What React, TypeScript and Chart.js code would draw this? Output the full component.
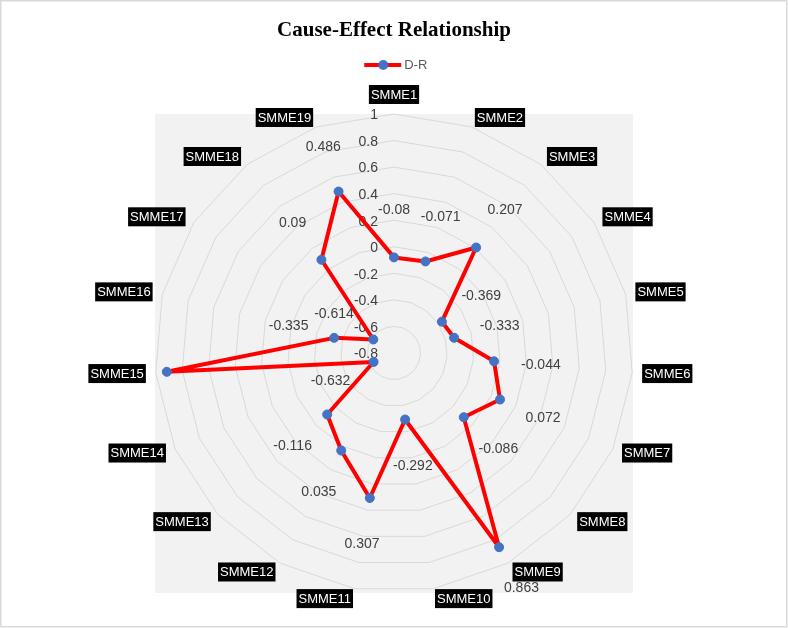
import React, { useEffect, useRef } from "react";
import { Chart, registerables } from "chart.js";

Chart.register(...registerables);

const categories = [
  "SMME1", "SMME2", "SMME3", "SMME4", "SMME5", "SMME6", "SMME7", "SMME8", "SMME9", "SMME10",
  "SMME11", "SMME12", "SMME13", "SMME14", "SMME15", "SMME16", "SMME17", "SMME18", "SMME19",
];
const drValues = [
  -0.08, -0.071, 0.207, -0.369, -0.333, -0.044, 0.072, -0.086, 0.863, -0.292,
  0.307, 0.035, -0.116, -0.632, 0.917, -0.335, -0.614, 0.09, 0.486,
];
const axisMin = -0.8;
const axisMax = 1;
const axisStep = 0.2;
const chartTitle = "Cause-Effect Relationship";
const seriesName = "D-R";

const SANS = '"Liberation Sans", Arial, sans-serif';
const SERIF = '"Liberation Serif", "Times New Roman", serif';

const fmtTick = (v: number) => String(Math.round(v * 10) / 10);

function makeLegendIcon() {
  const c = document.createElement("canvas");
  c.width = 46;
  c.height = 12;
  const g = c.getContext("2d")!;
  g.strokeStyle = "#ff0000";
  g.lineWidth = 4;
  g.beginPath();
  g.moveTo(8, 6);
  g.lineTo(45, 6);
  g.stroke();
  g.fillStyle = "#4472c4";
  g.beginPath();
  g.arc(27, 6, 5, 0, Math.PI * 2);
  g.fill();
  return c;
}

const decorPlugin = {
  id: "decor",
  beforeDraw(chart: any) {
    const { ctx, chartArea, width, height } = chart;
    ctx.save();
    ctx.fillStyle = "#ffffff";
    ctx.fillRect(0, 0, width, height);
    ctx.strokeStyle = "#d9d9d9";
    ctx.lineWidth = 1.5;
    ctx.strokeRect(0.75, 0.75, width - 2, height - 2);
    ctx.fillStyle = "#f2f2f2";
    ctx.fillRect(chartArea.left, chartArea.top, chartArea.right - chartArea.left, chartArea.bottom - chartArea.top);
    ctx.restore();
  },
  beforeDatasetsDraw(chart: any) {
    const scale = chart.scales.r;
    const ctx = chart.ctx;
    ctx.save();
    ctx.font = `14px ${SANS}`;
    ctx.fillStyle = "#404040";
    ctx.textAlign = "right";
    ctx.textBaseline = "middle";
    scale.ticks.forEach((t: any) => {
      const d = scale.getDistanceFromCenterForValue(t.value);
      ctx.fillText(fmtTick(t.value), scale.xCenter - 16, scale.yCenter - d + 1.5);
    });
    ctx.restore();
  },
  afterDatasetsDraw(chart: any) {
    const scale = chart.scales.r;
    const ctx = chart.ctx;
    ctx.save();
    ctx.font = `14px ${SANS}`;
    ctx.fillStyle = "#404040";
    ctx.textAlign = "center";
    ctx.textBaseline = "middle";
    drValues.forEach((v, i) => {
      const d = scale.getDistanceFromCenterForValue(v) + 47;
      const p = scale.getPointPosition(i, d);
      ctx.fillText(String(v), p.x, p.y);
    });
    ctx.restore();
  },
  afterDraw(chart: any) {
    const scale = chart.scales.r;
    const ctx = chart.ctx;
    ctx.save();
    ctx.font = `13px ${SANS}`;
    const R = scale.drawingArea + 10;
    categories.forEach((c, i) => {
      const p = scale.getPointPosition(i, R);
      const s = (p.x - scale.xCenter) / R;
      const cosv = (scale.yCenter - p.y) / R;
      const w = ctx.measureText(c).width + 4;
      const h = 19;
      let left: number;
      let top: number;
      if (Math.abs(s) < 0.01) {
        left = p.x - w / 2;
        top = cosv > 0 ? p.y - h : p.y;
      } else if (s > 0) {
        left = p.x;
        top = p.y - h / 2;
      } else {
        left = p.x - w;
        top = p.y - h / 2;
      }
      ctx.fillStyle = "#000000";
      ctx.fillRect(left, top, w, h);
      ctx.fillStyle = "#ffffff";
      ctx.textAlign = "center";
      ctx.textBaseline = "middle";
      ctx.fillText(c, left + w / 2, top + h / 2 + 0.5);
    });
    ctx.restore();
  },
};

export default function App() {
  const ref = useRef<HTMLCanvasElement | null>(null);
  useEffect(() => {
    document.body.style.margin = "0";
    const canvas = ref.current!;
    const icon = makeLegendIcon();
    const chart = new Chart(canvas, {
      type: "radar",
      data: {
        labels: categories,
        datasets: [
          {
            label: seriesName,
            data: drValues,
            borderColor: "#ff0000",
            borderWidth: 4,
            backgroundColor: "#4472c4",
            pointBackgroundColor: "#4472c4",
            pointBorderColor: "#4472c4",
            pointBorderWidth: 1,
            pointRadius: 4.5,
            fill: false,
            tension: 0,
            borderJoinStyle: "round",
          } as any,
        ],
      },
      options: {
        responsive: false,
        animation: false,
        devicePixelRatio: 1,
        layout: { padding: { left: 155, right: 155, top: 0, bottom: 35 } },
        scales: {
          r: {
            min: axisMin,
            max: axisMax,
            beginAtZero: false,
            ticks: { stepSize: axisStep, display: false },
            grid: { color: "#d9d9d9", lineWidth: 1, circular: false },
            angleLines: { display: false },
            pointLabels: { display: false },
          },
        },
        plugins: {
          title: {
            display: true,
            text: chartTitle,
            color: "#000000",
            font: { family: SERIF, size: 21, weight: "bold", lineHeight: 1.2 },
            padding: { top: 17.7, bottom: 5.6 },
          },
          legend: {
            display: true,
            position: "top",
            labels: {
              usePointStyle: true,
              pointStyleWidth: 37,
              color: "#595959",
              font: { family: SANS, size: 13 },
              padding: 10,
              generateLabels: () => [
                {
                  text: seriesName,
                  pointStyle: icon as any,
                  fillStyle: "transparent",
                  strokeStyle: "transparent",
                  lineWidth: 0,
                  hidden: false,
                  datasetIndex: 0,
                  fontColor: "#595959",
                } as any,
              ],
            },
          },
          subtitle: {
            display: true,
            text: "",
            position: "top",
            weight: 500,
            font: { size: 10, lineHeight: 1.2 },
            padding: { top: 0, bottom: 20.5 },
          } as any,
          tooltip: { enabled: false },
        },
      } as any,
      plugins: [decorPlugin],
    });
    return () => chart.destroy();
  }, []);
  return <canvas ref={ref} width={788} height={628} style={{ display: "block" }} />;
}
